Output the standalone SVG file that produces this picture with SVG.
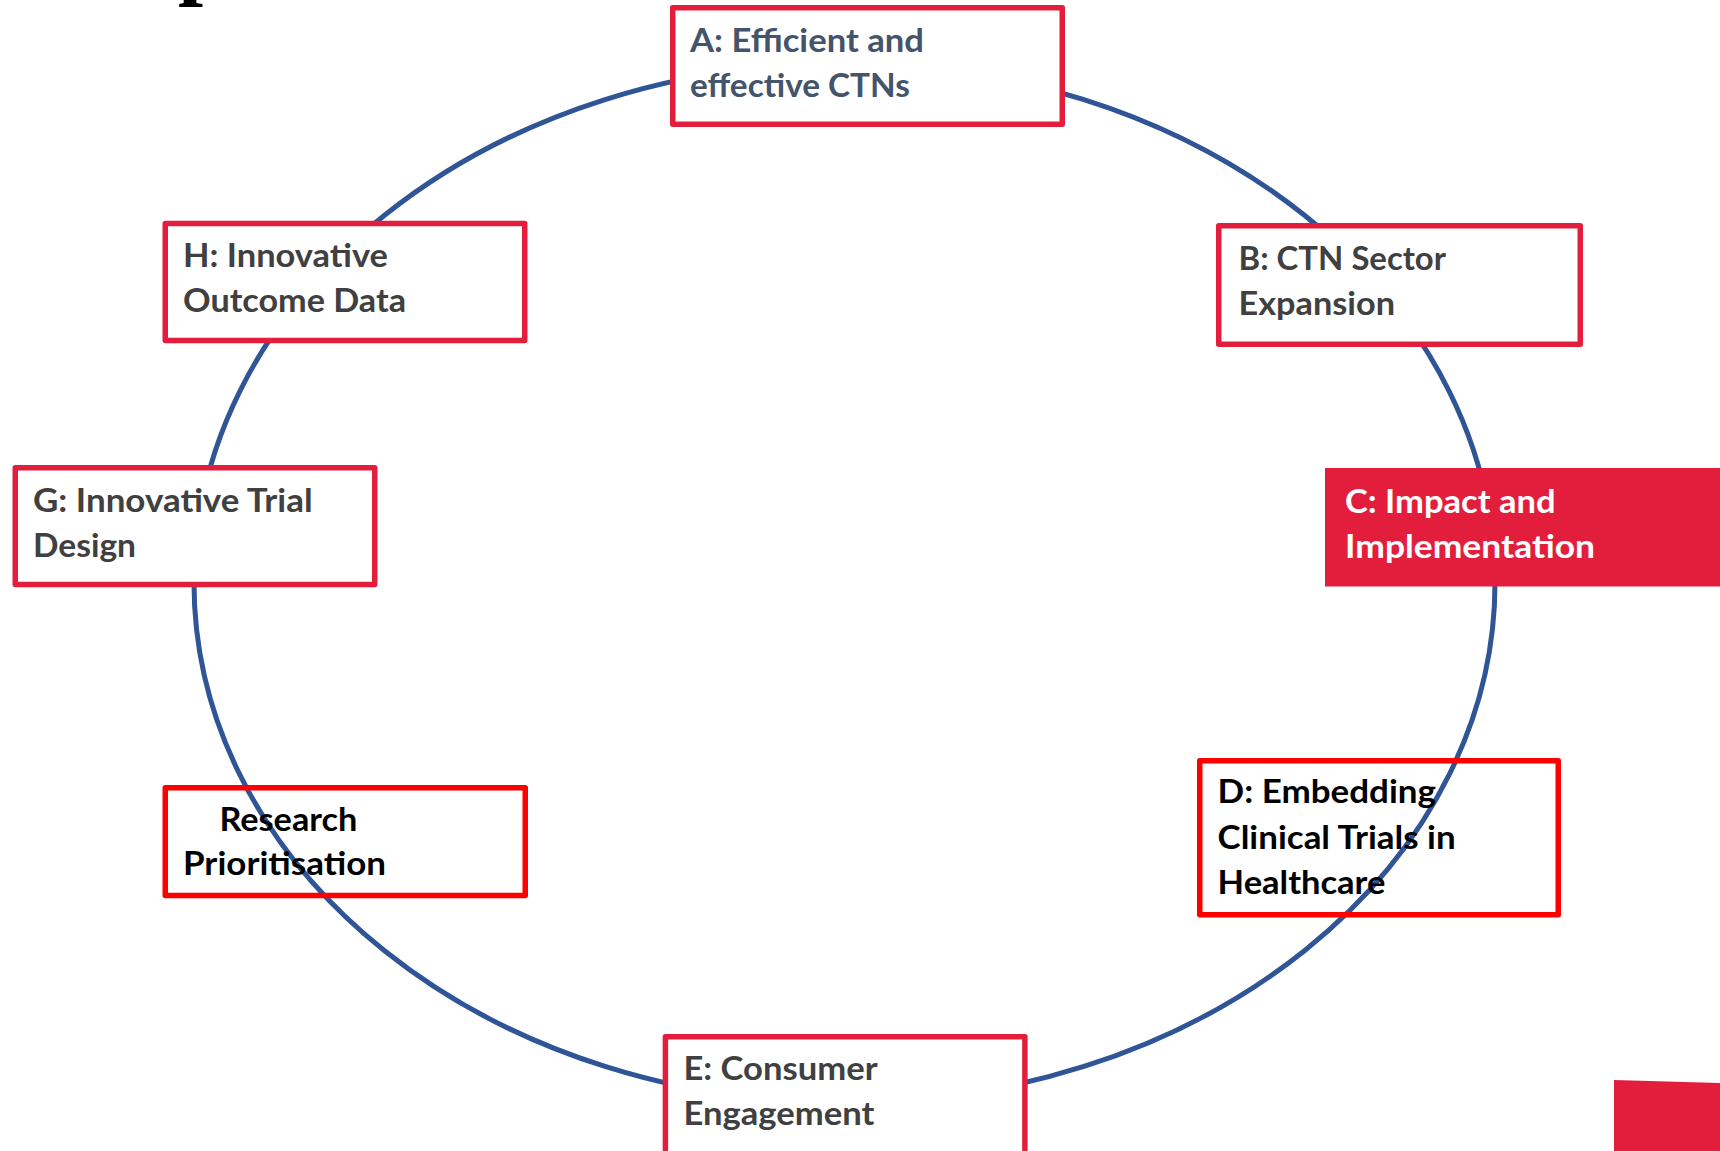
<svg xmlns="http://www.w3.org/2000/svg" width="1720" height="1151" viewBox="0 0 1720 1151">
  <style>
    .box { fill: #FFFFFF; stroke: #E31E3D; stroke-width: 5.5; stroke-linejoin: round; }
    .boxr { fill: none; stroke: #FF0000; stroke-width: 5.5; stroke-linejoin: round; }
    .lbl { font-family: Lato, "Liberation Sans", sans-serif; font-weight: bold; font-size: 33px; }
    .slate { fill: #44546A; }
    .grey { fill: #404040; }
    .blk { fill: #000000; }
    .wht { fill: #FFFFFF; }
  </style>
  <rect x="0" y="0" width="1720" height="1151" fill="#FFFFFF"/>
  <text x="178" y="-12.5" font-family="'Liberation Serif', serif" font-weight="bold" font-size="90" fill="#000000">p</text>
  <g id="connectors">
    <ellipse cx="844.5" cy="583" rx="650.5" ry="520" fill="none" stroke="#2F5597" stroke-width="5"/>
  </g>
  <g id="node-A">
    <rect class="box" x="672.75" y="7.75" width="389.5" height="116.5"/>
    <text class="lbl slate" x="690" y="51.7" textLength="234" lengthAdjust="spacingAndGlyphs">A: Efficient and</text>
    <text class="lbl slate" x="690" y="96.7" textLength="220" lengthAdjust="spacingAndGlyphs">effective CTNs</text>
  </g>
  <g id="node-B">
    <rect class="box" x="1218.75" y="225.75" width="361.5" height="118.5"/>
    <text class="lbl grey" x="1238.5" y="270" textLength="207.5" lengthAdjust="spacingAndGlyphs">B: CTN Sector</text>
    <text class="lbl grey" x="1238.5" y="315" textLength="156.5" lengthAdjust="spacingAndGlyphs">Expansion</text>
  </g>
  <g id="node-C">
    <rect x="1325" y="468" width="400" height="118.5" fill="#E31E3D"/>
    <text class="lbl wht" x="1345" y="513.3" textLength="210.5" lengthAdjust="spacingAndGlyphs">C: Impact and</text>
    <text class="lbl wht" x="1345" y="558.3" textLength="250" lengthAdjust="spacingAndGlyphs">Implementation</text>
  </g>
  <g id="node-D">
    <rect class="boxr" x="1199.75" y="760.75" width="358.5" height="154"/>
    <text class="lbl blk" x="1217.6" y="803.3" textLength="218.4" lengthAdjust="spacingAndGlyphs">D: Embedding</text>
    <text class="lbl blk" x="1217.6" y="849.3" textLength="238" lengthAdjust="spacingAndGlyphs">Clinical Trials in</text>
    <text class="lbl blk" x="1217.6" y="894" textLength="167.8" lengthAdjust="spacingAndGlyphs">Healthcare</text>
  </g>
  <g id="node-E">
    <rect class="box" x="665.4" y="1036.75" width="359.5" height="200"/>
    <text class="lbl grey" x="683.4" y="1080" textLength="194.2" lengthAdjust="spacingAndGlyphs">E: Consumer</text>
    <text class="lbl grey" x="683.4" y="1125" textLength="191" lengthAdjust="spacingAndGlyphs">Engagement</text>
  </g>
  <g id="node-G">
    <rect class="box" x="15.25" y="467.75" width="359.5" height="116.8"/>
    <text class="lbl grey" x="33" y="511.7" textLength="279.6" lengthAdjust="spacingAndGlyphs">G: Innovative Trial</text>
    <text class="lbl grey" x="33" y="556.7" textLength="103" lengthAdjust="spacingAndGlyphs">Design</text>
  </g>
  <g id="node-H">
    <rect class="box" x="165.25" y="223.5" width="359.5" height="117"/>
    <text class="lbl grey" x="183" y="266.7" textLength="205" lengthAdjust="spacingAndGlyphs">H: Innovative</text>
    <text class="lbl grey" x="183" y="311.7" textLength="223" lengthAdjust="spacingAndGlyphs">Outcome Data</text>
  </g>
  <g id="node-F">
    <rect class="boxr" x="165.25" y="787.75" width="360" height="107.8"/>
    <text class="lbl blk" x="219.4" y="830.7" textLength="138" lengthAdjust="spacingAndGlyphs">Research</text>
    <text class="lbl blk" x="183" y="875" textLength="203" lengthAdjust="spacingAndGlyphs">Prioritisation</text>
  </g>
  <g id="corner-shape">
    <polygon points="1614,1080 1720,1083 1720,1151 1614,1151" fill="#E31E3D"/>
  </g>
</svg>
